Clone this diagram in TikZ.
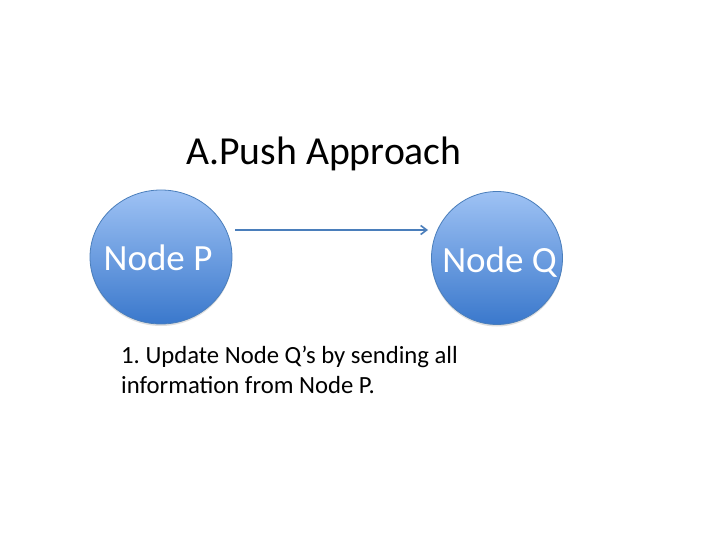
\documentclass[tikz,border=0pt]{standalone}
\usepackage{fontspec}
\setmainfont{Carlito}
\frenchspacing
\usetikzlibrary{shapes.geometric,arrows.meta,shadows}
\definecolor{nodetop}{HTML}{9EC2F4}
\definecolor{nodebot}{HTML}{3A78CC}
\definecolor{nodeline}{HTML}{4A7EBB}
\tikzset{
  bubble/.style={ellipse, draw=nodeline, line width=0.8pt, top color=nodetop, bottom color=nodebot,
    inner sep=0pt, drop shadow={shadow xshift=0pt, shadow yshift=-2pt, opacity=0.25}},
  bubbletext/.style={text=white, font=\fontsize{37}{42}\selectfont, anchor=base, inner sep=0pt},
  link/.style={draw=nodeline, line width=1.6pt, -{Straight Barb[length=6pt,width=9pt]}},
  title/.style={font=\fontsize{39.7}{46}\selectfont, anchor=base west, inner sep=0pt},
  body/.style={font=\fontsize{24.7}{30}\selectfont, anchor=base west, inner sep=0pt, align=left}
}
\begin{document}
\begin{tikzpicture}[x=1pt,y=-1pt]
\useasboundingbox (0,0) rectangle (720,540);
\fill[white] (0,0) rectangle (720,540);
\node[bubble, minimum width=142pt, minimum height=134pt] (P) at (161,257) {};
\node[bubble, minimum width=131pt, minimum height=133pt] (Q) at (497,258) {};
\node[bubbletext] (PL) at (158,270) {Node P};
\node[bubbletext] (QL) at (499.5,272) {Node Q};
\coordinate (a1) at (235,230);
\coordinate (a2) at (428,230);
\draw[link] (a1) -- (a2);
\node[title] (T) at (186,165) {A.Push Approach};
\node[body] (B) at (121,393) {1. Update Node Q’s by sending all\\information from Node P.};
\end{tikzpicture}
\end{document}
